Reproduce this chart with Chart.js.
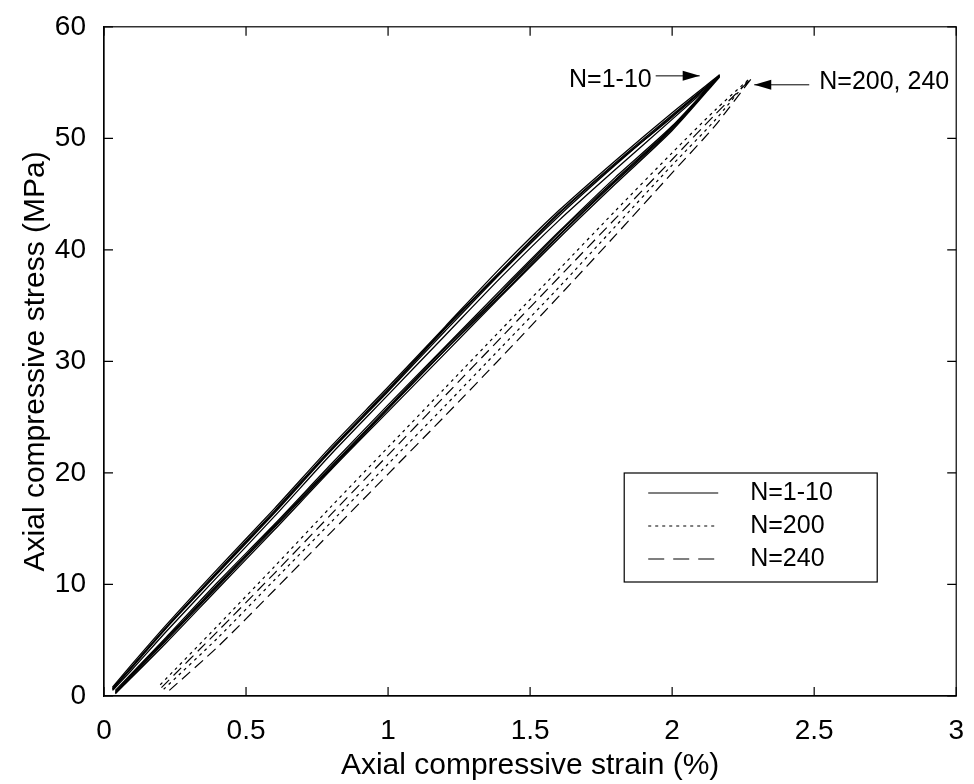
<!DOCTYPE html>
<html><head><meta charset="utf-8">
<script src="https://cdn.jsdelivr.net/npm/chart.js@4.4.0/dist/chart.umd.min.js"></script>
<style>html,body{margin:0;padding:0;background:#fff}#wrap{width:974px;height:784px}</style>
</head><body><div id="wrap"><canvas id="c" width="974" height="784"></canvas></div>
<script>
// ---- tick labels ----
const xTicks = [0, 0.5, 1, 1.5, 2, 2.5, 3];
const yTicks = [0, 10, 20, 30, 40, 50, 60];

// ---- N=1-10 cycles (strain %, stress MPa) ----
const n1LoadStrain   = [0.04, 0.22, 0.4, 0.6, 0.8, 1.0, 1.2, 1.4, 1.6, 1.8, 2.0, 2.167];
const n1UnloadStrain = [2.167, 2.0, 1.8, 1.6, 1.4, 1.2, 1.0, 0.8, 0.6, 0.4, 0.22, 0.1, 0.03];
const cycle1Load   = [0.3, 5.0, 9.8, 15.1, 20.5, 25.8, 31.0, 36.2, 41.3, 46.2, 50.9, 55.6];
const cycle1Unload = [55.6, 52.0, 47.6, 43.0, 38.0, 32.7, 27.3, 22.0, 16.4, 11.0, 6.1, 2.6, 0.6];
const cycle2Load   = [0.5, 5.3, 10.2, 15.4, 20.8, 26.1, 31.3, 36.5, 41.6, 46.5, 51.1, 55.7];
const cycle2Unload = [55.7, 52.3, 48.0, 43.5, 38.5, 33.1, 27.7, 22.4, 16.8, 11.4, 6.4, 2.9, 0.8];
const cycle3Load   = [0.2, 4.8, 9.6, 14.9, 20.3, 25.5, 30.7, 35.9, 41.0, 45.9, 50.7, 55.5];
const cycle3Unload = [55.5, 51.7, 47.2, 42.6, 37.6, 32.3, 27.0, 21.7, 16.1, 10.7, 5.8, 2.4, 0.5];
const cycle4Load   = [0.4, 5.2, 9.9, 15.3, 20.6, 25.9, 31.2, 36.3, 41.5, 46.3, 51.0, 55.6];
const cycle4Unload = [55.6, 52.1, 47.8, 43.3, 38.2, 33.0, 27.5, 22.2, 16.6, 11.2, 6.2, 2.7, 0.7];
const cycle5Load   = [0.3, 5.1, 10.0, 15.2, 20.4, 25.7, 31.0, 36.0, 41.2, 46.1, 50.8, 55.6];
const cycle5Unload = [55.6, 51.9, 47.7, 43.2, 38.1, 32.9, 27.4, 22.1, 16.5, 11.1, 6.2, 2.7, 0.6];

// ---- N=200 ----
const n200LoadStrain   = [0.21, 0.4, 0.6, 0.8, 1.0, 1.2, 1.4, 1.6, 1.8, 2.0, 2.15, 2.27];
const n200LoadStress   = [0.6, 5.2, 10.4, 15.6, 20.8, 26.0, 31.3, 36.6, 42.1, 47.6, 51.6, 55.3];
const n200UnloadStrain = [2.27, 2.15, 2.0, 1.8, 1.6, 1.4, 1.2, 1.0, 0.8, 0.6, 0.4, 0.19];
const n200UnloadStress = [55.3, 52.5, 48.7, 43.5, 38.2, 32.9, 27.6, 22.3, 17.0, 11.6, 6.3, 0.8];

// ---- N=240 ----
const n240LoadStrain   = [0.23, 0.4, 0.6, 0.8, 1.0, 1.2, 1.4, 1.6, 1.8, 2.0, 2.15, 2.28];
const n240LoadStress   = [0.5, 4.4, 9.5, 14.7, 19.9, 25.1, 30.4, 35.8, 41.3, 46.9, 51.1, 55.4];
const n240UnloadStrain = [2.28, 2.15, 2.0, 1.8, 1.6, 1.4, 1.2, 1.0, 0.8, 0.6, 0.4, 0.20];
const n240UnloadStress = [55.4, 52.1, 48.1, 42.8, 37.5, 32.2, 26.9, 21.6, 16.3, 11.0, 5.8, 0.7];

const seriesLabels = ['N=1-10', 'N=200', 'N=240'];
const annotationTexts = ['N=1-10', 'N=200, 240'];

const FONT = '"Liberation Sans", Arial, sans-serif';
const pts = (xs, ys) => xs.map((v, i) => ({x: v, y: ys[i]}));
const loop = (ls, l, us, u) => pts(ls, l).concat(pts(us, u));

const solid = {borderColor: '#000', borderWidth: 1.3, showLine: true, pointRadius: 0, tension: 0.25, fill: false};
const n1Loops = [
  [cycle1Load, cycle1Unload], [cycle2Load, cycle2Unload], [cycle3Load, cycle3Unload],
  [cycle4Load, cycle4Unload], [cycle5Load, cycle5Unload]
];
const datasets = n1Loops.map(c => Object.assign({label: seriesLabels[0], data: loop(n1LoadStrain, c[0], n1UnloadStrain, c[1])}, solid));
datasets.push(Object.assign({}, solid, {label: seriesLabels[1], borderWidth: 1.2, borderDash: [3, 4],
  data: loop(n200LoadStrain, n200LoadStress, n200UnloadStrain, n200UnloadStress)}));
datasets.push(Object.assign({}, solid, {label: seriesLabels[2], borderWidth: 1.2, borderDash: [11, 6],
  data: loop(n240LoadStrain, n240LoadStress, n240UnloadStrain, n240UnloadStress)}));

const styles = [{dash: []}, {dash: [3, 4]}, {dash: [16, 9]}];

const framePlugin = {
  id: 'frame',
  afterDraw(chart) {
    const {ctx, chartArea: a, scales: {x, y}} = chart;
    ctx.save();
    ctx.strokeStyle = '#000';
    ctx.lineWidth = 1.2;
    ctx.strokeRect(a.left, a.top, a.right - a.left, a.bottom - a.top);
    const tl = 9;
    ctx.beginPath();
    xTicks.forEach(v => {
      const p = x.getPixelForValue(v);
      ctx.moveTo(p, a.bottom); ctx.lineTo(p, a.bottom - tl);
      ctx.moveTo(p, a.top); ctx.lineTo(p, a.top + tl);
    });
    yTicks.forEach(v => {
      const p = y.getPixelForValue(v);
      ctx.moveTo(a.left, p); ctx.lineTo(a.left + tl, p);
      ctx.moveTo(a.right, p); ctx.lineTo(a.right - tl, p);
    });
    ctx.stroke();

    // legend box
    const bx = a.right - 332, by = a.bottom - 223, bw = 253, bh = 109;
    ctx.fillStyle = '#fff';
    ctx.fillRect(bx, by, bw, bh);
    ctx.lineWidth = 1.2;
    ctx.strokeRect(bx, by, bw, bh);
    ctx.font = '25px ' + FONT;
    ctx.fillStyle = '#000';
    ctx.textBaseline = 'middle';
    ctx.textAlign = 'left';
    seriesLabels.forEach((lab, i) => {
      const ry = by + 20 + i * 33;
      ctx.save();
      ctx.lineWidth = 1.2;
      ctx.setLineDash(styles[i].dash);
      ctx.beginPath(); ctx.moveTo(bx + 24, ry); ctx.lineTo(bx + 94, ry); ctx.stroke();
      ctx.restore();
      ctx.fillText(lab, bx + 126, ry);
    });

    // annotations with arrows
    const arrow = (x1, y1, x2, y2) => {
      ctx.beginPath(); ctx.moveTo(x1, y1); ctx.lineTo(x2, y2); ctx.stroke();
      const dir = Math.sign(x2 - x1);
      ctx.beginPath();
      ctx.moveTo(x2, y2);
      ctx.lineTo(x2 - dir * 17, y2 - 5);
      ctx.lineTo(x2 - dir * 17, y2 + 5);
      ctx.closePath(); ctx.fill();
    };
    ctx.lineWidth = 1;
    const t1x = x.getPixelForValue(2.097), t1y = y.getPixelForValue(55.6);
    arrow(t1x - 44, t1y, t1x, t1y);
    ctx.textAlign = 'right';
    ctx.fillText(annotationTexts[0], t1x - 48, t1y + 4);
    const t2x = x.getPixelForValue(2.289), t2y = y.getPixelForValue(54.8);
    arrow(t2x + 55, t2y, t2x, t2y);
    ctx.textAlign = 'left';
    ctx.fillText(annotationTexts[1], t2x + 65, t2y - 3);
    ctx.restore();
  }
};

new Chart(document.getElementById('c'), {
  type: 'scatter',
  data: {datasets},
  options: {
    responsive: false,
    devicePixelRatio: 1,
    animation: false,
    layout: {padding: {top: 23, right: 13, left: 0, bottom: 0}},
    plugins: {legend: {display: false}, tooltip: {enabled: false}},
    scales: {
      x: {
        type: 'linear', min: 0, max: 3,
        afterBuildTicks: s => { s.ticks = xTicks.map(v => ({value: v})); },
        afterFit: s => { s.height = 88; },
        grid: {display: false},
        border: {display: true, color: '#000', width: 1.2},
        ticks: {color: '#000', font: {family: FONT, size: 28}, padding: 10, maxRotation: 0, callback: v => String(v)},
        title: {display: true, text: 'Axial compressive strain (%)', color: '#000',
                font: {family: FONT, size: 30, lineHeight: 1.2}, padding: {top: 0, bottom: 0}}
      },
      y: {
        type: 'linear', min: 0, max: 60,
        afterBuildTicks: s => { s.ticks = yTicks.map(v => ({value: v})); },
        afterFit: s => { s.width = 104; },
        grid: {display: false},
        border: {display: true, color: '#000', width: 1.2},
        ticks: {color: '#000', font: {family: FONT, size: 28}, padding: 10, callback: v => String(v)},
        title: {display: true, text: 'Axial compressive stress (MPa)', color: '#000',
                font: {family: FONT, size: 30, lineHeight: 1.2}, padding: {top: 18, bottom: 0}}
      }
    }
  },
  plugins: [framePlugin]
});
</script>
</body></html>
